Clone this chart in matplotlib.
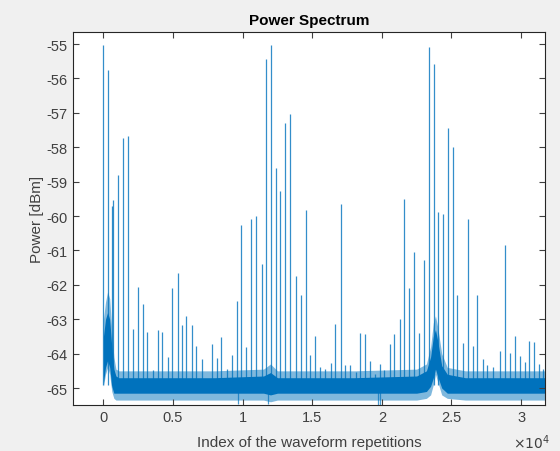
import matplotlib.pyplot as plt

plt.rcParams['font.family'] = ['Liberation Sans', 'DejaVu Sans']
plt.rcParams['axes.unicode_minus'] = False

# spectral lines: index and peak power [dBm]
peak_idx = [0, 316, 650, 700, 1030, 1415, 1750, 2110, 2500, 2830, 3160, 3540,
            3900, 4210, 4620, 4930, 5340, 5650, 5940, 6350, 6650, 7060, 7780,
            8140, 8450, 8860, 9220, 9580, 9885, 10240, 10600, 10960, 11370,
            11680, 12040, 12400, 12710, 13070, 13400, 13830, 14170, 14550,
            14840, 15220, 15560, 15940, 16320, 16630, 17040, 17350, 17710,
            18140, 18430, 18760, 19150, 19500, 19860, 20170, 20580, 20890,
            21300, 21590, 21970, 22300, 22690, 23020, 23400, 23720, 24000,
            24410, 24740, 25100, 25420, 25800, 26200, 26520, 26850, 27230,
            27570, 27950, 28480, 28810, 29200, 29530, 29910, 30290, 30580,
            30920, 31300, 31590]
peak_pow = [-55.02, -55.76, -59.7, -59.53, -58.8, -57.72, -57.68, -63.28,
            -62.07, -62.55, -63.37, -64.49, -63.31, -63.37, -64.1, -62.1,
            -61.65, -63.18, -62.92, -63.18, -63.78, -64.17, -63.71, -64.13,
            -63.52, -64.44, -64.05, -62.48, -60.25, -63.81, -60.1, -60.0,
            -61.39, -55.44, -55.02, -58.61, -59.27, -57.3, -57.02, -61.75,
            -62.29, -59.82, -64.05, -63.49, -64.39, -64.44, -64.27, -63.15,
            -59.65, -64.34, -64.34, -64.54, -63.4, -63.44, -64.2, -64.6,
            -64.3, -64.49, -63.71, -63.44, -62.99, -59.5, -62.1, -61.05,
            -63.4, -61.27, -55.1, -55.58, -59.88, -59.94, -57.44, -58.0,
            -62.29, -63.68, -60.1, -63.79, -62.29, -64.15, -64.34, -64.39,
            -63.91, -60.84, -63.98, -63.49, -64.07, -64.25, -63.64, -63.67,
            -64.31, -64.44]

# noise floor envelope (outer and core)
floor_idx = [0, 150, 300, 450, 600, 750, 900, 1100, 3000, 8000, 11500, 12000,
             12500, 18000, 22500, 23200, 23500, 23700, 23850, 24000, 24300,
             24700, 26000, 29000, 31700]
floor_hi = [-63.0, -62.5, -62.2, -62.4, -63.3, -64.1, -64.45, -64.5, -64.5,
            -64.5, -64.45, -64.3, -64.5, -64.5, -64.45, -64.3, -63.8, -63.1,
            -62.9, -63.2, -64.0, -64.4, -64.5, -64.5, -64.5]
floor_lo = [-64.95, -64.6, -64.4, -64.6, -65.1, -65.3, -65.35, -65.35, -65.35,
            -65.35, -65.35, -65.4, -65.35, -65.35, -65.35, -65.3, -65.2, -64.9,
            -64.6, -64.8, -65.2, -65.3, -65.35, -65.35, -65.35]
core_hi = [-63.5, -63.0, -62.8, -63.0, -63.8, -64.45, -64.65, -64.7, -64.7,
           -64.7, -64.65, -64.55, -64.7, -64.7, -64.65, -64.5, -64.1, -63.5,
           -63.3, -63.6, -64.35, -64.6, -64.7, -64.7, -64.7]
core_lo = [-64.85, -64.4, -64.2, -64.4, -64.95, -65.15, -65.15, -65.15, -65.15,
           -65.15, -65.15, -65.2, -65.15, -65.15, -65.15, -65.1, -64.95, -64.7,
           -64.45, -64.65, -65.0, -65.15, -65.15, -65.15, -65.15]

# a few downward excursions of the floor
dip_idx = [9700, 11800, 19700, 19850]
dip_pow = [-65.45, -65.45, -65.5, -65.5]

blue = '#0072BD'
fig = plt.figure(figsize=(5.6, 4.52), dpi=100, facecolor='#f0f0f0')
ax = fig.add_axes([0.13, 0.102, 0.843, 0.825])

ax.fill_between(floor_idx, floor_lo, floor_hi, color=blue, alpha=0.5, lw=0)
ax.fill_between(floor_idx, core_lo, core_hi, color=blue, lw=0)
ax.vlines(peak_idx, -64.9, peak_pow, color=blue, lw=0.9, alpha=0.8)
ax.vlines(dip_idx, dip_pow, -65.0, color=blue, lw=0.9, alpha=0.7)

ax.set_xlim(-2200, 31710)
ax.set_ylim(-65.49, -54.65)
ax.set_xticks([0, 5000, 10000, 15000, 20000, 25000, 30000])
ax.set_xticklabels(['0', '0.5', '1', '1.5', '2', '2.5', '3'])
ax.set_yticks(range(-65, -54))
ax.tick_params(direction='in', top=True, right=True, length=4, width=0.8,
               labelsize=10.5, colors='#404040')
for s in ax.spines.values():
    s.set_color('#262626')
    s.set_linewidth(0.8)

ax.set_title('Power Spectrum', fontsize=11, fontweight='bold', color='black', pad=6)
ax.set_xlabel('Index of the waveform repetitions', fontsize=11, color='#404040',
              labelpad=8)
ax.set_ylabel('Power [dBm]', fontsize=11, color='#404040', labelpad=2)
ax.text(1.01, -0.075, r'$\times10^4$', transform=ax.transAxes, ha='right',
        va='top', fontsize=10, color='#404040')

fig.savefig('out.png', dpi=100, facecolor=fig.get_facecolor())
